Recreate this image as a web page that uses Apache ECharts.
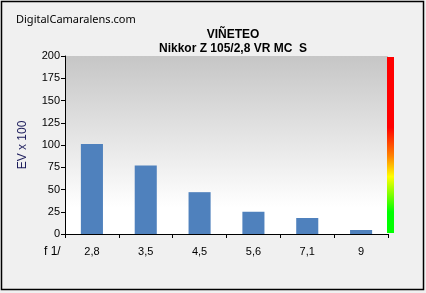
<!DOCTYPE html>
<html>
<head>
<meta charset="utf-8">
<script src="https://cdn.jsdelivr.net/npm/echarts@6/dist/echarts.min.js"></script>
<style>
html,body{margin:0;padding:0;background:#f0f0f0;}
#c{width:426px;height:293px;}
</style>
</head>
<body>
<div id="c"></div>
<script>
const categories = ['2,8', '3,5', '4,5', '5,6', '7,1', '9'];
const values = [101, 77, 47, 25, 18, 4.5];
const yTicks = [0, 25, 50, 75, 100, 125, 150, 175, 200];
const site = 'DigitalCamaralens.com';
const title1 = 'VIÑETEO';
const title2 = 'Nikkor Z 105/2,8 VR MC  S';
const yName = 'EV x 100';
const xPrefix = 'f 1/';

const chart = echarts.init(document.getElementById('c'), null, {renderer: 'canvas'});
const F = 'Liberation Sans, Arial, sans-serif';
chart.setOption({
  backgroundColor: '#f0f0f0',
  animation: false,
  title: [
    {text: title1, left: 228, top: 24, textAlign: 'center',
     textStyle: {fontFamily: F, fontSize: 12, fontWeight: 'bold', color: '#000'}},
    {text: title2, left: 228, top: 38, textAlign: 'center',
     textStyle: {fontFamily: F, fontSize: 12, fontWeight: 'bold', color: '#000'}},
    {text: site, left: 11, top: 9,
     textStyle: {fontFamily: 'Noto Sans, sans-serif', fontSize: 11, fontWeight: 'normal', color: '#000'}}
  ],
  grid: {
    left: 65, top: 56, width: 323, height: 178,
    show: true, borderWidth: 0,
    backgroundColor: new echarts.graphic.LinearGradient(0, 0, 0, 1, [
      {offset: 0, color: '#c6c6c6'},
      {offset: 0.85, color: '#ffffff'},
      {offset: 1, color: '#ffffff'}
    ])
  },
  xAxis: {
    type: 'category',
    data: categories,
    boundaryGap: true,
    axisLine: {lineStyle: {color: '#000', width: 1}},
    axisTick: {show: true, length: 4, alignWithLabel: false, lineStyle: {color: '#000'}},
    axisLabel: {fontFamily: F, fontSize: 11, color: '#000', margin: 12}
  },
  yAxis: {
    type: 'value', min: 0, max: 200, interval: 25,
    name: yName, nameLocation: 'middle', nameGap: 36, nameRotate: 90,
    nameTextStyle: {fontFamily: F, fontSize: 12, color: '#1a1a5a'},
    axisLine: {show: true, lineStyle: {color: '#000', width: 1}},
    axisTick: {show: true, length: 4, lineStyle: {color: '#000'}},
    axisLabel: {fontFamily: F, fontSize: 11, color: '#000', margin: 5,
      formatter: v => yTicks.includes(v) ? String(v) : ''},
    splitLine: {show: false}
  },
  series: [{
    type: 'bar',
    data: values,
    barWidth: '41%',
    itemStyle: {color: '#4f81bd'}
  }],
  graphic: [
    {type: 'rect', shape: {x: 387, y: 57, width: 7, height: 176}, z: 10,
     style: {fill: new echarts.graphic.LinearGradient(0, 0, 0, 1, [
       {offset: 0, color: '#ff0000'},
       {offset: 0.40, color: '#ff0000'},
       {offset: 0.56, color: '#ff8000'},
       {offset: 0.68, color: '#ffff00'},
       {offset: 0.88, color: '#00ff00'},
       {offset: 1, color: '#00ff00'}
     ])}},
    {type: 'text', left: 44, top: 246, z: 10,
     style: {text: xPrefix, fontFamily: F, fontSize: 12, fill: '#000'}},
    {type: 'rect', shape: {x: 1.5, y: 1.5, width: 422, height: 288}, z: 20,
     style: {fill: 'none', stroke: '#000', lineWidth: 1.5}}
  ]
});
</script>
</body>
</html>
